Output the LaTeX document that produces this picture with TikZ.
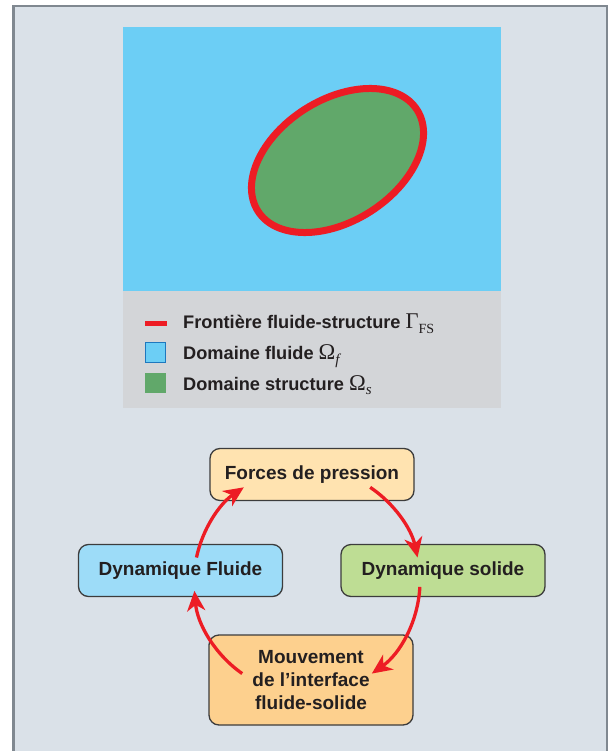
\RequirePackage{fix-cm}
\documentclass[tikz,border=0pt]{standalone}
\usepackage{fontspec}
\setmainfont{Liberation Sans}
\newfontfamily\mathserif{Liberation Serif}
\usetikzlibrary{arrows.meta,calc}
\definecolor{framebg}{RGB}{218,225,232}
\definecolor{frameline}{RGB}{128,136,144}
\definecolor{legendbg}{RGB}{211,213,216}
\definecolor{fluidblue}{RGB}{108,206,245}
\definecolor{solidgreen}{RGB}{97,168,106}
\definecolor{fsred}{RGB}{237,28,36}
\definecolor{forcesc}{RGB}{255,227,176}
\definecolor{fluidec}{RGB}{157,220,248}
\definecolor{solidec}{RGB}{190,221,148}
\definecolor{mouvc}{RGB}{253,208,142}
\definecolor{txt}{RGB}{35,31,32}
\definecolor{boxline}{RGB}{60,60,60}
\definecolor{sqblue}{RGB}{30,120,190}
\newcommand{\bigsym}[1]{{\mathserif\mdseries\fontsize{22.5}{22}\selectfont #1}}
\newcommand{\subup}[1]{\raisebox{-4.5pt}{\mathserif\mdseries\fontsize{14}{14}\selectfont #1}}
\newcommand{\subit}[1]{\raisebox{-4.5pt}{\mathserif\mdseries\itshape\fontsize{15}{15}\selectfont #1}}
\tikzset{
  procbox/.style={draw=boxline, line width=1.3pt, rounded corners=10pt,
    minimum width=204pt, minimum height=52pt, inner sep=0pt, align=center,
    text=txt, font=\bfseries\fontsize{19}{23}\selectfont},
  legtext/.style={anchor=base west, inner sep=0pt, text=txt,
    font=\bfseries\fontsize{18.2}{22}\selectfont},
  cyc/.style={draw=fsred, line width=3.3pt,
    -{Stealth[length=20pt,width=18pt,inset=6pt]}}
}
\begin{document}
\begin{tikzpicture}[x=1pt,y=1pt]
\useasboundingbox (0,0) rectangle (613,-751);
\fill[white] (0,0) rectangle (613,-751);
% frame
\begin{scope}
\clip (0,0) rectangle (613,-751);
\draw[frameline, fill=framebg, line width=2.5pt] (13.5,-6) rectangle (607,-770);
\end{scope}
% domain picture
\fill[fluidblue] (123,-27) rectangle (501,-291);
\fill[legendbg] (123,-291) rectangle (501,-408);
\draw[fsred, fill=solidgreen, line width=7pt, rotate around={32.4:(337.5,-160.5)}]
  (337.5,-160.5) ellipse [x radius=94.3, y radius=60.8];
% legend
\draw[fsred, line width=5pt] (145,-323.5) -- (167,-323.5);
\node[legtext] (l1) at (183,-328.5) {Frontière fluide-structure \bigsym{Γ}\subup{FS}};
\draw[sqblue, fill=fluidblue, line width=1pt] (145.5,-342.5) rectangle (165.5,-362);
\node[legtext] (l2) at (183,-359.5) {Domaine fluide \bigsym{Ω}\subit{f}};
\fill[solidgreen] (145,-373) rectangle (166,-393);
\node[legtext] (l3) at (183,-390) {Domaine structure \bigsym{Ω}\subit{s}};
% process boxes
\node[procbox, fill=forcesc] (forces) at (312,-474.5) {Forces de pression};
\node[procbox, fill=fluidec] (fluide) at (180.5,-570.5) {Dynamique Fluide};
\node[procbox, fill=solidec] (solide) at (443,-570.5) {Dynamique solide};
\node[procbox, fill=mouvc, minimum height=90pt] (mouv) at (311,-680)
  {Mouvement\\de l’interface\\fluide-solide};
% cycle arrows
\coordinate (c) at (307,-581);
\draw[cyc] ($(c)+(168:113)$) arc[start angle=168, end angle=124, radius=113];
\draw[cyc] ($(c)+(56:113)$) arc[start angle=56, end angle=12, radius=113];
\draw[cyc] ($(c)+(-3:113)$) arc[start angle=-3, end angle=-55, radius=113];
\draw[cyc] ($(c)+(235:113)$) arc[start angle=235, end angle=185, radius=113];
\end{tikzpicture}
\end{document}
